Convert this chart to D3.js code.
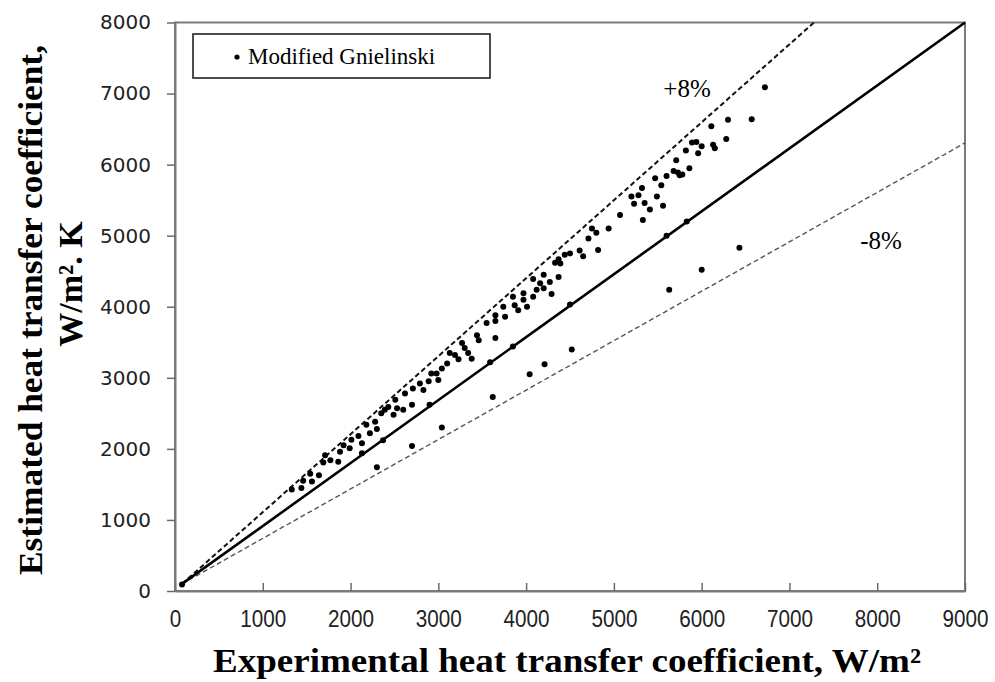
<!DOCTYPE html>
<html>
<head>
<meta charset="utf-8">
<script src="https://cdn.jsdelivr.net/npm/d3@7"></script>
<style>
  body { margin: 0; background: #fff; }
  svg { display: block; }
</style>
</head>
<body>
<div id="plot"></div>
<script>
var w = 995;
var h = 682;

// experimental (x) and estimated (y) heat transfer coefficients
var expHtc = [80,
	1330, 1440, 1460, 1540, 1560, 1640, 1690, 1710, 1770, 1860, 1880, 1920, 1990, 2010, 2090, 2130, 2130, 2180, 2220, 2280, 2300, 2350, 2390, 2490, 2300, 2700,
	2430, 2510, 2530, 2600, 2620, 2700, 2710, 2790, 2830, 2890, 2920, 2980, 3000, 3040, 3100, 3130, 3190, 3230, 3270, 3300, 3340, 3380, 3440, 3460, 3550, 3650, 3650, 3620, 4040,
	3650, 3740, 3760, 3850, 3870, 3910, 3970, 3970, 4010, 4080, 4080, 4120, 4160, 4200, 4200, 4270, 4290, 4330, 4370, 4370, 4390, 4440, 4500, 4610, 4650, 4710, 4750, 4800, 4820, 4940, 5070, 5230,
	5330, 5200, 5280, 5320, 5350, 5410, 5470, 5490, 5540, 5560, 5600, 5680, 5710, 5730, 5750, 5780, 5820, 5860, 5890, 5940, 5960, 6000, 6110, 6130, 6150, 6280, 6300, 6570, 6720,
	3040, 4210, 4520, 4500, 3590, 3850, 2900, 2370, 5630, 6000, 6430, 5600, 5830];
var estHtc = [90,
	1430, 1450, 1550, 1650, 1540, 1630, 1810, 1910, 1840, 1820, 1960, 2050, 2010, 2130, 2180, 2080, 1940, 2340, 2220, 2380, 2280, 2500, 2550, 2480, 1740, 2040,
	2590, 2690, 2570, 2550, 2780, 2620, 2850, 2920, 2830, 2950, 3060, 3060, 2970, 3130, 3200, 3350, 3320, 3260, 3490, 3420, 3350, 3270, 3600, 3530, 3770, 3800, 3560, 2730, 3050,
	3880, 4000, 3860, 4140, 4020, 3950, 4190, 4100, 4000, 4140, 4390, 4240, 4330, 4450, 4260, 4350, 4180, 4620, 4420, 4670, 4610, 4730, 4750, 4790, 4710, 4960, 5100, 5040, 4800, 5100, 5290, 5450,
	5220, 5550, 5570, 5670, 5460, 5370, 5810, 5550, 5710, 5420, 5840, 5910, 6060, 5890, 5850, 5860, 6200, 5950, 6310, 6320, 6160, 6260, 6540, 6280, 6230, 6360, 6630, 6640, 7090,
	2300, 3190, 3400, 4030, 3220, 3440, 2620, 2120, 4240, 4520, 4830, 5000, 5200];

// reference lines [x, y] end points
var perfectLine = [[80, 100], [9000, 8000]];
var plusLine = [[80, 100], [7280, 8000]];
var minusLine = [[80, 100], [9000, 6305]];

var xTicks = [0, 1000, 2000, 3000, 4000, 5000, 6000, 7000, 8000, 9000];
var yTicks = [0, 1000, 2000, 3000, 4000, 5000, 6000, 7000, 8000];

var seriesName = "Modified Gnielinski";
var xTitle = "Experimental heat transfer coefficient, W/m\u00b2";
var yTitle1 = "Estimated heat transfer coefficient,";
var yTitle2 = "W/m\u00b2. K";

var xScale = d3.scaleLinear()
	.domain([0, 9000])
	.range([175, 965]);

var yScale = d3.scaleLinear()
	.domain([0, 8000])
	.range([591, 22.5]);

var svg = d3.select("#plot").append("svg")
	.attr("width", w)
	.attr("height", h);

svg.append("rect")
	.attr("width", w)
	.attr("height", h)
	.attr("fill", "#fff");

// frame
svg.append("rect")
	.attr("x", xScale(0))
	.attr("y", yScale(8000))
	.attr("width", xScale(9000) - xScale(0))
	.attr("height", yScale(0) - yScale(8000))
	.attr("fill", "none")
	.attr("stroke", "#7a7a7a")
	.attr("stroke-width", 2);

var xAxis = d3.axisBottom(xScale)
	.tickValues(xTicks)
	.tickFormat(d3.format("d"))
	.tickSize(-8)
	.tickSizeOuter(0)
	.tickPadding(19);

var yAxis = d3.axisLeft(yScale)
	.tickValues(yTicks)
	.tickFormat(d3.format("d"))
	.tickSize(8)
	.tickSizeOuter(0)
	.tickPadding(16);

var gx = svg.append("g")
	.attr("transform", "translate(0," + yScale(0) + ")")
	.call(xAxis);
gx.select(".domain").attr("stroke", "#7a7a7a").attr("stroke-width", 2);
gx.selectAll(".tick line").attr("stroke", "#6a6a6a").attr("stroke-width", 1.5);
// labels in the picture are narrow, so squeeze them
gx.selectAll(".tick text")
	.attr("fill", "#222")
	.attr("textLength", function(d) { return String(d).length * 11.5; })
	.attr("lengthAdjust", "spacingAndGlyphs")
	.style("font-family", "'Liberation Sans', Arial, sans-serif")
	.style("font-size", "24px");

var gy = svg.append("g")
	.attr("transform", "translate(" + xScale(0) + ",0)")
	.call(yAxis);
gy.select(".domain").attr("stroke", "#7a7a7a").attr("stroke-width", 2);
gy.selectAll(".tick line").attr("stroke", "#6a6a6a").attr("stroke-width", 1.5);
gy.selectAll(".tick text")
	.attr("fill", "#222")
	.style("font-family", "'DejaVu Sans', Verdana, sans-serif")
	.style("font-size", "20px");

var line = d3.line()
	.x(function(d) { return xScale(d[0]); })
	.y(function(d) { return yScale(d[1]); });

svg.append("path")
	.datum(minusLine)
	.attr("d", line)
	.attr("fill", "none")
	.attr("stroke", "#555")
	.attr("stroke-width", 1.4)
	.attr("stroke-dasharray", "5,3");

svg.append("path")
	.datum(plusLine)
	.attr("d", line)
	.attr("fill", "none")
	.attr("stroke", "#111")
	.attr("stroke-width", 2)
	.attr("stroke-dasharray", "5,3");

svg.append("path")
	.datum(perfectLine)
	.attr("d", line)
	.attr("fill", "none")
	.attr("stroke", "#000")
	.attr("stroke-width", 2.6);

svg.selectAll(".pt")
	.data(expHtc)
	.enter()
	.append("circle")
	.attr("class", "pt")
	.attr("cx", function(d) { return xScale(d); })
	.attr("cy", function(d, i) { return yScale(estHtc[i]); })
	.attr("r", 3)
	.attr("fill", "#000");

// band labels
svg.append("text")
	.attr("x", 687)
	.attr("y", 97)
	.attr("text-anchor", "middle")
	.style("font-family", "'Liberation Serif', 'Times New Roman', serif")
	.style("font-size", "25px")
	.text("+8%");

svg.append("text")
	.attr("x", 881)
	.attr("y", 249)
	.attr("text-anchor", "middle")
	.style("font-family", "'Liberation Serif', 'Times New Roman', serif")
	.style("font-size", "25px")
	.text("-8%");

// legend
svg.append("rect")
	.attr("x", 193)
	.attr("y", 34)
	.attr("width", 297)
	.attr("height", 44)
	.attr("fill", "#fff")
	.attr("stroke", "#222")
	.attr("stroke-width", 1.6);

svg.append("circle")
	.attr("cx", 237)
	.attr("cy", 57)
	.attr("r", 2.6)
	.attr("fill", "#000");

svg.append("text")
	.attr("x", 248)
	.attr("y", 64)
	.style("font-family", "'Liberation Serif', 'Times New Roman', serif")
	.style("font-size", "23px")
	.text(seriesName);

// axis titles
svg.append("text")
	.attr("x", 567)
	.attr("y", 672)
	.attr("text-anchor", "middle")
	.attr("textLength", 708)
	.attr("lengthAdjust", "spacingAndGlyphs")
	.style("font-family", "'Liberation Serif', 'Times New Roman', serif")
	.style("font-weight", "bold")
	.style("font-size", "34px")
	.text(xTitle);

svg.append("text")
	.attr("transform", "translate(42,310) rotate(-90)")
	.attr("text-anchor", "middle")
	.attr("textLength", 530)
	.attr("lengthAdjust", "spacingAndGlyphs")
	.style("font-family", "'Liberation Serif', 'Times New Roman', serif")
	.style("font-weight", "bold")
	.style("font-size", "34px")
	.text(yTitle1);

svg.append("text")
	.attr("transform", "translate(82,284) rotate(-90)")
	.attr("text-anchor", "middle")
	.style("font-family", "'Liberation Serif', 'Times New Roman', serif")
	.style("font-weight", "bold")
	.style("font-size", "34px")
	.text(yTitle2);
</script>
</body>
</html>
